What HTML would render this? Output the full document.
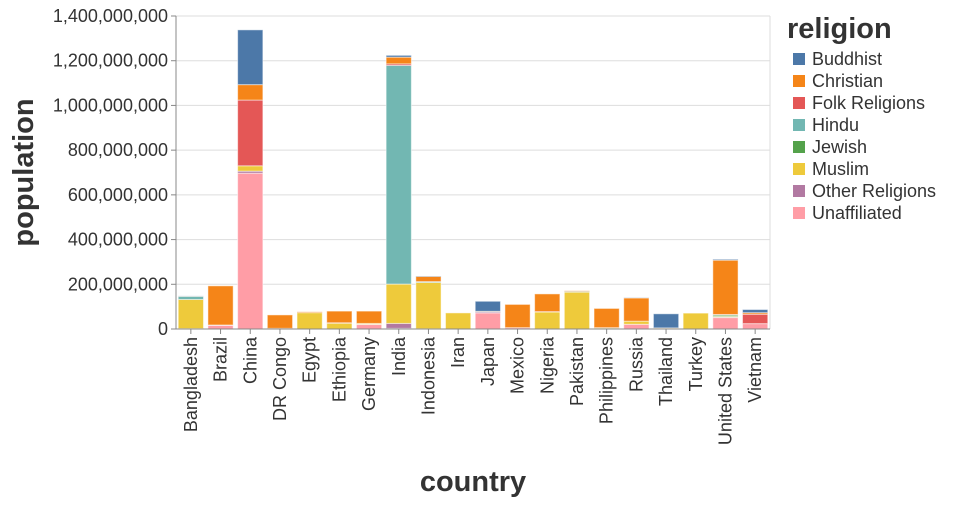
<!DOCTYPE html>
<html><head><meta charset="utf-8"><style>
body{margin:0;background:#fff;}
svg{font-family:"Liberation Sans",sans-serif;}
</style></head><body>
<svg id="chart" width="960" height="500"></svg>
<script>
const countries=["Bangladesh","Brazil","China","DR Congo","Egypt","Ethiopia","Germany","India","Indonesia","Iran","Japan","Mexico","Nigeria","Pakistan","Philippines","Russia","Thailand","Turkey","United States","Vietnam"];
const religions=["Buddhist","Christian","Folk Religions","Hindu","Jewish","Muslim","Other Religions","Unaffiliated"];
// values in millions, per religion, aligned with countries
const buddhist=[1,0,245,0,0,0,0,8,2,0,45,0,0,0,0,1,63,0,4,14];
const christian=[1,175,69,60,4,52,55,30,23,0,2,104,79,3,86,104,1,0,243,7];
const folk=[0,1,294,1,0,2,0,7,0,0,0,0,2,0,1,0,0,0,1,42];
const hindu=[14,0,0,0,0,0,0,978,4,0,0,0,0,3,0,0,0,0,2,0];
const jewish=[0,0,0,0,0,0,0,0,0,0,0,0,0,0,0,0,0,0,6,0];
const muslim=[130,0,24,1,73,26,4,176,207,72,0,0,76,165,5,14,4,71,3,0];
const other=[1,1,9,0,0,0,1,22,0,0,5,0,0,0,0,0,0,0,2,0];
const unaffiliated=[1,16,697,1,0,0,20,3,1,0,72,6,0,0,0,21,0,0,51,24];
const seriesVals=[buddhist,christian,folk,hindu,jewish,muslim,other,unaffiliated];
const colors=["#4c78a8","#f58518","#e45756","#72b7b2","#54a24b","#eeca3b","#b279a2","#ff9da6"];
const yTicks=[0,200,400,600,800,1000,1200,1400];
const yTickLabels=["0","200,000,000","400,000,000","600,000,000","800,000,000","1,000,000,000","1,200,000,000","1,400,000,000"];

const NS="http://www.w3.org/2000/svg";
const svg=document.getElementById("chart");
const X0=176,X1=770,Y0=329,Y1=16,YMAX=1400;
const step=(X1-X0)/countries.length, bw=step*0.85;
const y=v=>Y0-(v/YMAX)*(Y0-Y1);
const xc=i=>X0+step*(i+0.5);
function mk(t,a,p){const e=document.createElementNS(NS,t);for(const k in a)e.setAttribute(k,a[k]);(p||svg).appendChild(e);return e;}

const grid=mk("g",{});


yTicks.forEach((v,i)=>{
  const l=mk("line",{x1:X0,x2:X1,y1:y(v),y2:y(v),stroke:"#ddd","stroke-width":1},grid);
  
  
  const tk=mk("line",{x1:X0-5,x2:X0,y1:y(v),y2:y(v),stroke:"#888"},grid);
  
  
  const t=mk("text",{x:X0-8,y:y(v)+6,"text-anchor":"end","font-size":18,fill:"#333"},grid);
  t.textContent=yTickLabels[i];
  
  
});
const rl=mk("line",{x1:X1,x2:X1,y1:Y1,y2:Y0,stroke:"#ddd"});



const bars=mk("g",{});


const order=[7,6,5,4,3,2,1,0];
countries.forEach((c,i)=>{
  let acc=0;
  order.forEach(s=>{
    const v=seriesVals[s][i];
    if(v<=0)return;
    const r=mk("rect",{x:xc(i)-bw/2,y:y(acc+v),width:bw,height:y(acc)-y(acc+v),fill:colors[s],stroke:"#fff","stroke-opacity":0.5,"stroke-width":1},bars);
    
    
    acc+=v;
  });
  const tk=mk("line",{x1:xc(i),x2:xc(i),y1:Y0,y2:Y0+5,stroke:"#888"});
  
  
  const t=mk("text",{x:0,y:0,"text-anchor":"end","font-size":18,fill:"#333",transform:`translate(${xc(i)+6},${Y0+8}) rotate(-90)`});
  t.textContent=c;
  
  
});
const xa=mk("line",{x1:X0,x2:X1,y1:Y0,y2:Y0,stroke:"#888"});


const ya=mk("line",{x1:X0,x2:X0,y1:Y1,y2:Y0,stroke:"#888"});



const xt=mk("text",{x:(X0+X1)/2,y:491,"text-anchor":"middle","font-size":29,"font-weight":"bold",fill:"#333"});
xt.textContent="country";


const yt=mk("text",{x:0,y:0,"text-anchor":"middle","font-size":29,"font-weight":"bold",fill:"#333",transform:`translate(33,${(Y0+Y1)/2}) rotate(-90)`});
yt.textContent="population";



const lg=mk("g",{});


const lt=mk("text",{x:787,y:38,"font-size":29,"font-weight":"bold",fill:"#333"},lg);
lt.textContent="religion";


religions.forEach((r,i)=>{
  const g=mk("g",{},lg);
  
  
  const yy=59+i*22;
  mk("rect",{x:793,y:yy-6,width:12,height:12,fill:colors[i]},g);
  const t=mk("text",{x:812,y:yy+6,"font-size":18,fill:"#333"},g);
  t.textContent=r;
});
</script>
</body></html>
